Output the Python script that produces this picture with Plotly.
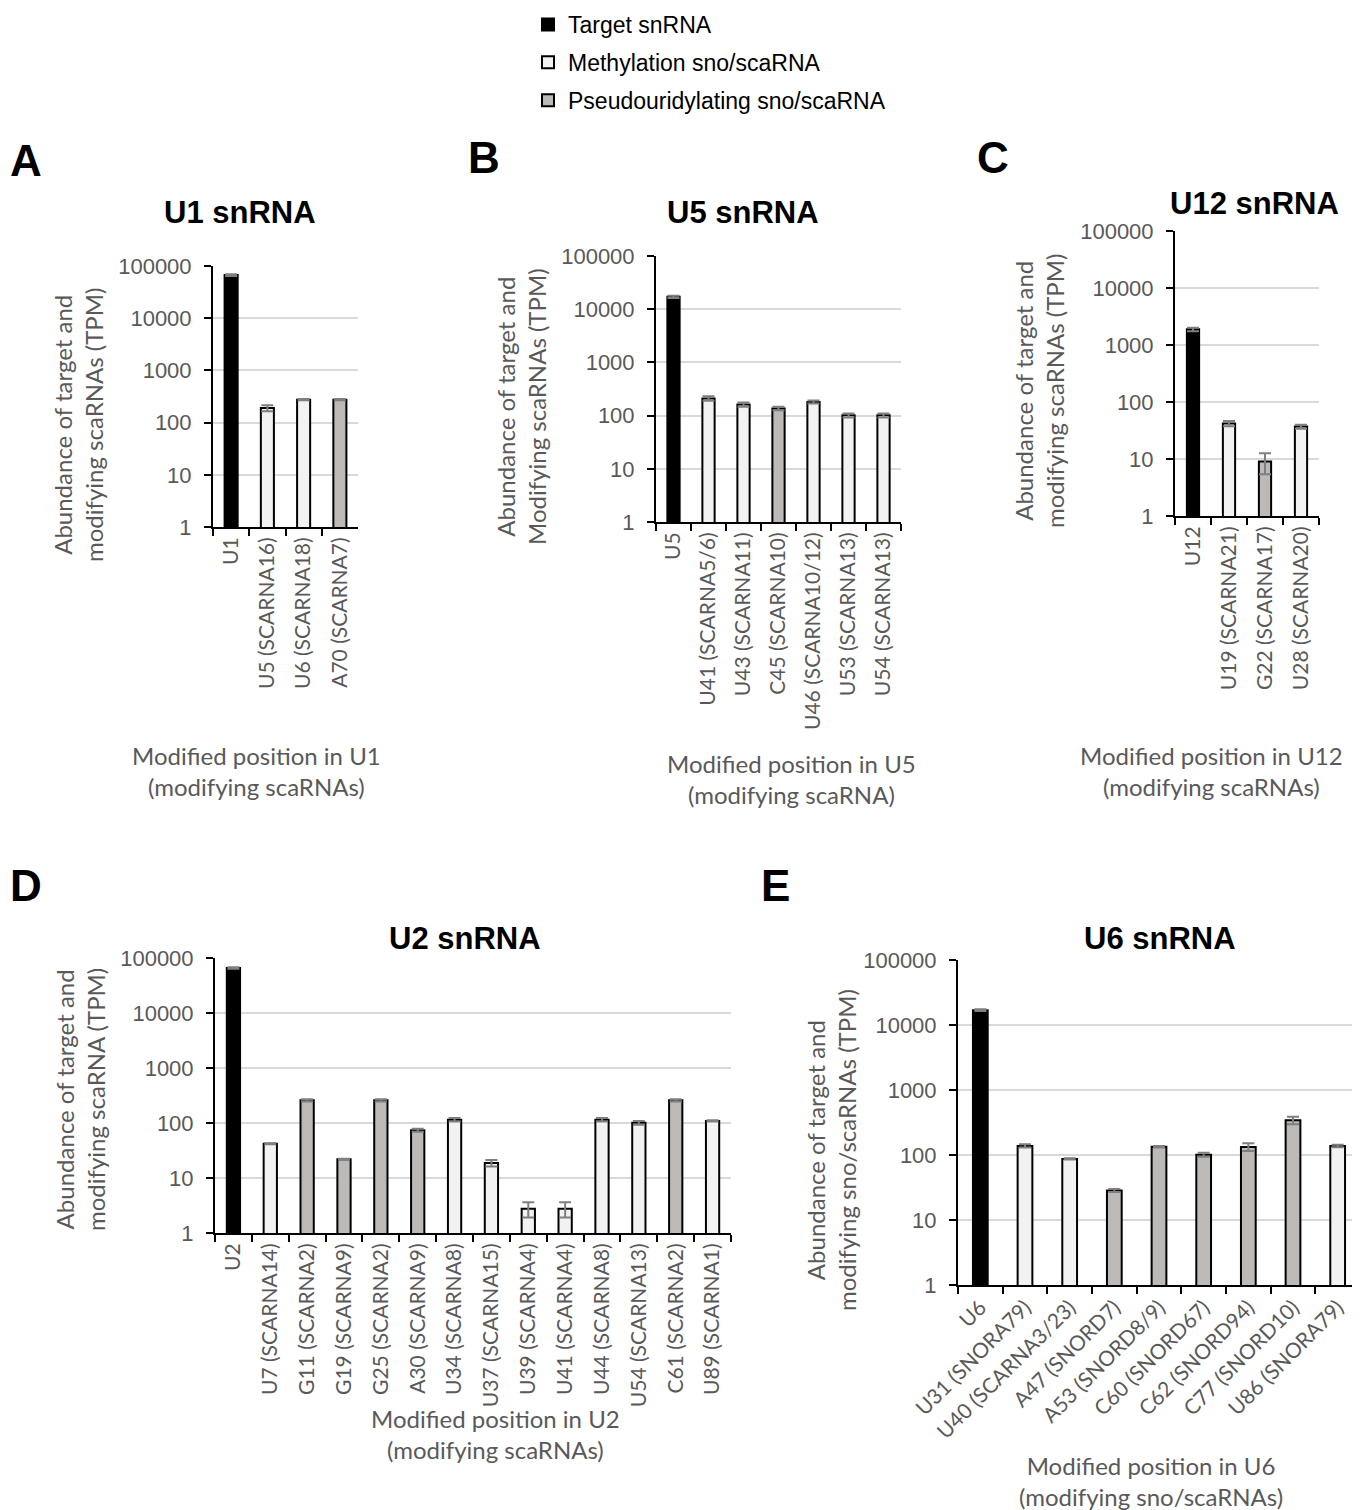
import plotly.graph_objects as go

W, H = 1360, 1510
OFF = 8  # page body margin in the browser; shift layout to compensate

# ---------------- DATA ----------------
type_names = {"T": "Target snRNA", "M": "Methylation sno/scaRNA", "P": "Pseudouridylating sno/scaRNA"}

A_title = "U1 snRNA"
A_categories = ["U1", "U5 (SCARNA16)", "U6 (SCARNA18)", "A70 (SCARNA7)"]
A_values = [67000, 190, 275, 275]
A_errors = [2500, 25, 8, 8]
A_types = ["T", "M", "M", "P"]

B_title = "U5 snRNA"
B_categories = ["U5", "U41 (SCARNA5/6)", "U43 (SCARNA11)", "C45 (SCARNA10)",
                "U46 (SCARNA10/12)", "U53 (SCARNA13)", "U54 (SCARNA13)"]
B_values = [17100, 210, 161, 136, 181, 101, 101]
B_errors = [800, 20, 15, 10, 12, 9, 9]
B_types = ["T", "M", "M", "P", "M", "M", "M"]

C_title = "U12 snRNA"
C_categories = ["U12", "U19 (SCARNA21)", "G22 (SCARNA17)", "U28 (SCARNA20)"]
C_values = [1880, 42, 9, 37]
C_errors = [130, 4.5, 3.6, 3]
C_types = ["T", "M", "P", "M"]

D_title = "U2 snRNA"
D_categories = ["U2", "U7 (SCARNA14)", "G11 (SCARNA2)", "G19 (SCARNA9)", "G25 (SCARNA2)",
                "A30 (SCARNA9)", "U34 (SCARNA8)", "U37 (SCARNA15)", "U39 (SCARNA4)",
                "U41 (SCARNA4)", "U44 (SCARNA8)", "U54 (SCARNA13)", "C61 (SCARNA2)",
                "U89 (SCARNA1)"]
D_values = [65800, 42, 259, 22, 259, 74, 115, 18.7, 2.77, 2.77, 115, 101, 259, 109]
D_errors = [2000, 1, 12, 0.5, 12, 5, 8, 2.5, 0.85, 0.85, 8, 8, 12, 3]
D_types = ["T", "M", "P", "P", "P", "P", "M", "M", "M", "M", "M", "M", "P", "M"]

E_title = "U6 snRNA"
E_categories = ["U6", "U31 (SNORA79)", "U40 (SCARNA3/23)", "A47 (SNORD7)", "A53 (SNORD8/9)",
                "C60 (SNORD67)", "C62 (SNORD94)", "C77 (SNORD10)", "U86 (SNORA79)"]
E_values = [16900, 138, 87, 28.5, 134, 101, 133, 343, 138]
E_errors = [500, 8, 2, 1.5, 3, 7, 18, 45, 6]
E_types = ["T", "M", "M", "P", "P", "P", "P", "P", "M"]

y_tickvals = [1, 10, 100, 1000, 10000, 100000]
y_ticktext = ["1", "10", "100", "1000", "10000", "100000"]

# ---------------- STYLE ----------------
fills = {"T": "#000000", "M": "#f2f2f2", "P": "#bdb9b7"}
GRAY = "#595959"
SANS = "Liberation Sans, Arial, sans-serif"
CAL = "Lato, Carlito, sans-serif"


def fx(px):
    return (px - OFF) / W


def fy(py):
    return 1 - (py - OFF) / H


panels = [
    dict(letter="A", title=A_title, cats=A_categories, vals=A_values, errs=A_errors, types=A_types,
         px=(213, 358), py=(266, 527), bw=0.36, angle=-90,
         ytitle="Abundance of target and<br>modifying scaRNAs (TPM)", ytpos=(78, 425),
         xtitle="Modified position in U1<br>(modifying scaRNAs)", xtpos=(257, 771),
         tpos=(240, 212), lpos=(26, 160)),
    dict(letter="B", title=B_title, cats=B_categories, vals=B_values, errs=B_errors, types=B_types,
         px=(656, 901), py=(256, 522), bw=0.35, angle=-90,
         ytitle="Abundance of target and<br>Modifying scaRNAs (TPM)", ytpos=(521, 407),
         xtitle="Modified position in U5<br>(modifying scaRNA)", xtpos=(792, 779),
         tpos=(743, 212), lpos=(484, 158)),
    dict(letter="C", title=C_title, cats=C_categories, vals=C_values, errs=C_errors, types=C_types,
         px=(1175, 1319), py=(231, 516), bw=0.34, angle=-90,
         ytitle="Abundance of target and<br>modifying scaRNAs (TPM)", ytpos=(1039, 391),
         xtitle="Modified position in U12<br>(modifying scaRNAs)", xtpos=(1211, 771),
         tpos=(1254, 203), lpos=(993, 158)),
    dict(letter="D", title=D_title, cats=D_categories, vals=D_values, errs=D_errors, types=D_types,
         px=(215, 731), py=(958, 1233), bw=0.36, angle=-90,
         ytitle="Abundance of target and<br>modifying scaRNA (TPM)", ytpos=(80, 1100),
         xtitle="Modified position in U2<br>(modifying scaRNAs)", xtpos=(495, 1434),
         tpos=(465, 938), lpos=(26, 885)),
    dict(letter="E", title=E_title, cats=E_categories, vals=E_values, errs=E_errors, types=E_types,
         px=(958, 1360), py=(960, 1285), bw=0.33, angle=-45,
         ytitle="Abundance of target and<br>modifying sno/scaRNAs (TPM)", ytpos=(831, 1150),
         xtitle="Modified position in U6<br>(modifying sno/scaRNAs)", xtpos=(1151, 1481),
         tpos=(1160, 938), lpos=(775, 885)),
]

fig = go.Figure()
annotations = []
layout_axes = {}

for i, p in enumerate(panels, start=1):
    xa = "x" if i == 1 else f"x{i}"
    ya = "y" if i == 1 else f"y{i}"
    for t in ["T", "M", "P"]:
        idx = [k for k, tt in enumerate(p["types"]) if tt == t]
        if not idx:
            continue
        fig.add_trace(go.Bar(
            x=[p["cats"][k] for k in idx],
            y=[p["vals"][k] for k in idx],
            error_y=dict(type="data", array=[p["errs"][k] for k in idx], symmetric=True,
                         color="#7f7f7f", thickness=2, width=6),
            marker=dict(color=fills[t], line=dict(color="#000000", width=2)),
            width=p["bw"], name=type_names[t], legendgroup=t,
            showlegend=(i == 1), xaxis=xa, yaxis=ya, hoverinfo="x+y",
        ))
    xkey = "xaxis" if i == 1 else f"xaxis{i}"
    ykey = "yaxis" if i == 1 else f"yaxis{i}"
    n = len(p["cats"])
    layout_axes[xkey] = dict(
        domain=[fx(p["px"][0]), min(fx(p["px"][1]), 1.0)], anchor=ya,
        type="category", categoryorder="array", categoryarray=p["cats"],
        range=[-0.5, n - 0.5], showline=True, linecolor="#000000", linewidth=2,
        ticks="outside", tickson="boundaries", ticklen=7, tickwidth=2, tickcolor="#000000",
        tickangle=p["angle"], tickfont=dict(family=CAL, size=21, color=GRAY),
        showgrid=False, zeroline=False, fixedrange=True, automargin=False,
    )
    layout_axes[ykey] = dict(
        domain=[fy(p["py"][1]), fy(p["py"][0])], anchor=xa,
        type="log", range=[0, 5], tickvals=y_tickvals, ticktext=y_ticktext,
        showline=True, linecolor="#000000", linewidth=2,
        ticks="outside", ticklen=7, tickwidth=2, tickcolor="#000000",
        ticklabelstandoff=8,
        tickfont=dict(family=SANS, size=22, color=GRAY),
        showgrid=True, gridcolor="#d9d9d9", gridwidth=2, zeroline=False, fixedrange=True,
        automargin=False,
    )
    annotations += [
        dict(text=f"<b>{p['letter']}</b>", x=fx(p["lpos"][0]), y=fy(p["lpos"][1]),
             xref="paper", yref="paper", showarrow=False, xanchor="center", yanchor="middle",
             font=dict(family=SANS, size=44, color="#000000")),
        dict(text=f"<b>{p['title']}</b>", x=fx(p["tpos"][0]), y=fy(p["tpos"][1]),
             xref="paper", yref="paper", showarrow=False, xanchor="center", yanchor="middle",
             font=dict(family=SANS, size=31, color="#000000")),
        dict(text=p["ytitle"], x=fx(p["ytpos"][0]), y=fy(p["ytpos"][1]),
             xref="paper", yref="paper", showarrow=False, xanchor="center", yanchor="middle",
             textangle=-90, font=dict(family=CAL, size=24, color=GRAY)),
        dict(text=p["xtitle"], x=fx(p["xtpos"][0]), y=fy(p["xtpos"][1]),
             xref="paper", yref="paper", showarrow=False, xanchor="center", yanchor="middle",
             font=dict(family=CAL, size=24, color=GRAY)),
    ]

fig.update_layout(
    width=W, height=H, margin=dict(l=0, r=0, t=0, b=0, autoexpand=False),
    paper_bgcolor="#ffffff", plot_bgcolor="#ffffff",
    barmode="overlay", annotations=annotations,
    legend=dict(x=fx(528), y=fy(3), xanchor="left", yanchor="top",
                font=dict(family=SANS, size=23, color="#000000"),
                traceorder="grouped", tracegroupgap=5, bgcolor="rgba(0,0,0,0)"),
    **layout_axes,
)

fig.write_html("out.html")
